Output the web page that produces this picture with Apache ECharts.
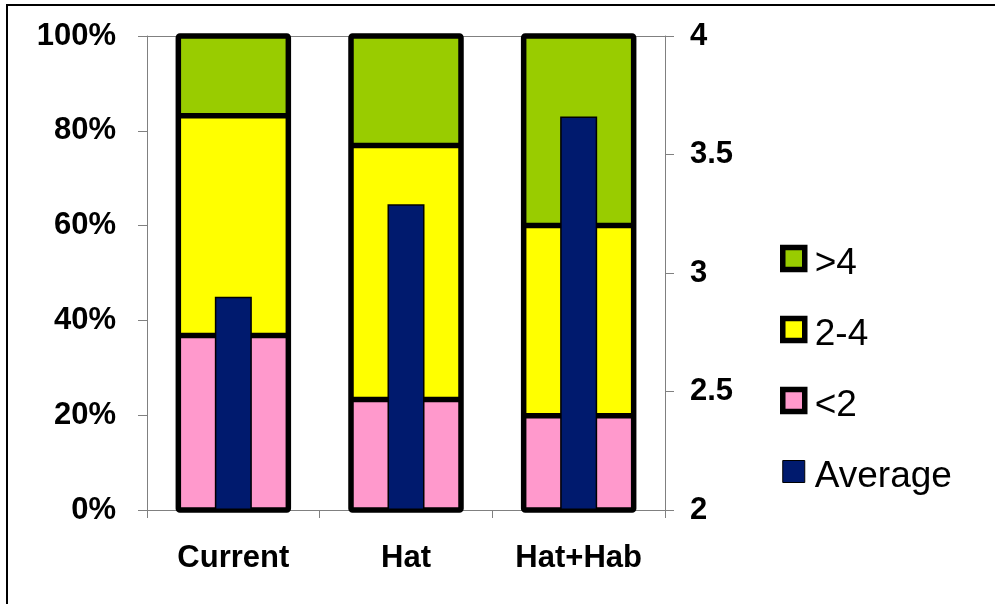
<!DOCTYPE html>
<html>
<head>
<meta charset="utf-8">
<script src="https://cdn.jsdelivr.net/npm/echarts@6/dist/echarts.min.js"></script>
<style>
  html, body { margin: 0; padding: 0; background: #ffffff; }
  #chart { width: 995px; height: 604px; }
</style>
</head>
<body>
<div id="chart"></div>
<script>
// Categories and values
const categories = ['Current', 'Hat', 'Hat+Hab'];
const shareBelow2 = [36.8, 23.3, 19.9];   // "<2"  (% of total)
const share2to4   = [46.4, 53.6, 40.1];   // "2-4" (% of total)
const shareAbove4 = [16.8, 23.1, 40.0];   // ">4"  (% of total)
const averageVal  = [2.9, 3.29, 3.66];    // right axis
const leftTicks   = ['0%', '20%', '40%', '60%', '80%', '100%'];
const rightTicks  = ['2', '2.5', '3', '3.5', '4'];

const FONT = 'Liberation Sans, Arial, sans-serif';
const AXIS_GRAY = '#808080';
const STACK_WIDTH = 110;
const OUTLINE_W = 5.5;

// Segment boundaries for the black outlines: [index, top of <2, top of 2-4, total]
const outlineData = categories.map((c, i) => [
  i,
  shareBelow2[i],
  shareBelow2[i] + share2to4[i],
  shareBelow2[i] + share2to4[i] + shareAbove4[i]
]);

const chart = echarts.init(document.getElementById('chart'), null, { renderer: 'canvas' });

chart.setOption({
  animation: false,
  backgroundColor: '#ffffff',
  graphic: [{
    type: 'rect',
    shape: { x: 7, y: 5, width: 1100, height: 700 },
    style: { fill: 'none', stroke: '#000000', lineWidth: 2 },
    silent: true,
    z: -10
  }],
  grid: { left: 147, right: 330, top: 36, bottom: 94, containLabel: false },
  legend: {
    orient: 'vertical',
    left: 780,
    top: 235,
    padding: 0,
    itemWidth: 22,
    itemHeight: 22,
    itemGap: 24,
    formatter: (name) => '{t|' + name + '}',
    textStyle: {
      fontFamily: FONT,
      fontSize: 37,
      color: '#000000',
      rich: {
        t: {
          fontFamily: FONT,
          fontSize: 37,
          color: '#000000',
          lineHeight: 40,
          padding: [10, 0, 0, 5]
        }
      }
    },
    data: [
      { name: '>4', icon: 'rect', itemStyle: { borderColor: '#000', borderWidth: 5.5 } },
      { name: '2-4', icon: 'rect', itemStyle: { borderColor: '#000', borderWidth: 5.5 } },
      { name: '<2', icon: 'rect', itemStyle: { borderColor: '#000', borderWidth: 5.5 } },
      { name: 'Average', icon: 'rect', itemStyle: { borderColor: '#000', borderWidth: 1 } }
    ]
  },
  xAxis: [
    {
      type: 'category',
      data: categories,
      axisLine: { lineStyle: { color: AXIS_GRAY, width: 1 } },
      axisTick: { show: true, length: 8, lineStyle: { color: AXIS_GRAY } },
      axisLabel: {
        margin: 33,
        fontFamily: FONT,
        fontSize: 31,
        fontWeight: 'bold',
        color: '#000000'
      }
    },
    {
      type: 'category',
      data: categories,
      show: false
    }
  ],
  yAxis: [
    {
      type: 'value',
      min: 0,
      max: 100,
      interval: 20,
      position: 'left',
      axisLine: { show: true, lineStyle: { color: AXIS_GRAY, width: 1 } },
      axisTick: { show: true, length: 9, lineStyle: { color: AXIS_GRAY } },
      splitLine: {
        show: true,
        lineStyle: {
          color: ['transparent', 'transparent', 'transparent', 'transparent', 'transparent', AXIS_GRAY],
          width: 1
        }
      },
      axisLabel: {
        margin: 31,
        fontFamily: FONT,
        fontSize: 31,
        fontWeight: 'bold',
        color: '#000000',
        formatter: (v) => leftTicks[Math.round(v / 20)]
      }
    },
    {
      type: 'value',
      min: 2,
      max: 4,
      interval: 0.5,
      startValue: 2,
      position: 'right',
      axisLine: { show: true, lineStyle: { color: AXIS_GRAY, width: 1 } },
      axisTick: { show: true, length: 9, lineStyle: { color: AXIS_GRAY } },
      splitLine: { show: false },
      axisLabel: {
        margin: 25,
        fontFamily: FONT,
        fontSize: 31,
        fontWeight: 'bold',
        color: '#000000',
        formatter: (v) => rightTicks[Math.round((v - 2) / 0.5)]
      }
    }
  ],
  series: [
    {
      name: '<2',
      type: 'bar',
      stack: 'dist',
      xAxisIndex: 0,
      yAxisIndex: 0,
      barWidth: STACK_WIDTH,
      itemStyle: { color: '#ff99cc', borderColor: '#000', borderWidth: 0 },
      data: shareBelow2
    },
    {
      name: '2-4',
      type: 'bar',
      stack: 'dist',
      xAxisIndex: 0,
      yAxisIndex: 0,
      barWidth: STACK_WIDTH,
      itemStyle: { color: '#ffff00', borderColor: '#000', borderWidth: 0 },
      data: share2to4
    },
    {
      name: '>4',
      type: 'bar',
      stack: 'dist',
      xAxisIndex: 0,
      yAxisIndex: 0,
      barWidth: STACK_WIDTH,
      itemStyle: { color: '#99cc00', borderColor: '#000', borderWidth: 0 },
      data: shareAbove4
    },
    {
      // Black outlines of the stacked columns, stroked centred on the segment edges
      name: 'outline',
      type: 'custom',
      xAxisIndex: 0,
      yAxisIndex: 0,
      z: 3,
      silent: true,
      clip: false,
      data: outlineData,
      renderItem: function (params, api) {
        const i = api.value(0);
        const base = api.coord([i, 0]);
        const yB1 = api.coord([i, api.value(1)])[1];
        const yB2 = api.coord([i, api.value(2)])[1];
        const yTop = api.coord([i, api.value(3)])[1];
        const x0 = base[0] - STACK_WIDTH / 2;
        const x1 = base[0] + STACK_WIDTH / 2;
        const stroke = { stroke: '#000000', lineWidth: OUTLINE_W, fill: 'none', lineJoin: 'round' };
        return {
          type: 'group',
          children: [
            { type: 'line', shape: { x1: x0, y1: yB1, x2: x1, y2: yB1 }, style: stroke },
            { type: 'line', shape: { x1: x0, y1: yB2, x2: x1, y2: yB2 }, style: stroke },
            { type: 'rect', shape: { x: x0, y: yTop, width: STACK_WIDTH, height: base[1] - yTop, r: 1.5 }, style: stroke }
          ]
        };
      }
    },
    {
      name: 'Average',
      type: 'bar',
      xAxisIndex: 1,
      yAxisIndex: 1,
      barWidth: 37,
      clip: true,
      z: 5,
      itemStyle: { color: '#001a6e', borderColor: '#000000', borderWidth: 1.5 },
      data: averageVal
    }
  ]
});
</script>
</body>
</html>
